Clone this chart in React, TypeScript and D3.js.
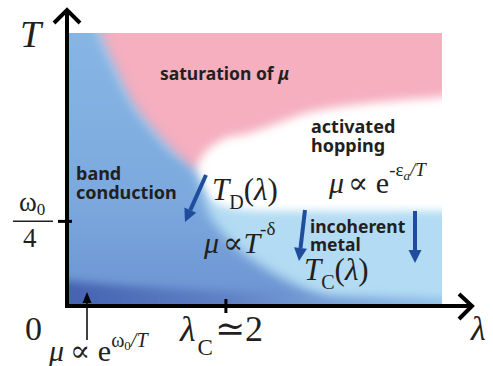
import React from "react";
import * as d3 from "d3";

const W = 493;
const H = 366;

// axis domains (λ along x, T along y, T normalised to the top of the chart)
const lambdaDomain: [number, number] = [0, 4.72];
const tDomain: [number, number] = [0, 1];
const lambdaC = 2;
const omegaQuarter = 0.31;

// crossover T_D(λ): band-conduction region (blue) / saturation (pink)
const blueEdgeLambda = [0.37, 0.42, 0.6, 0.84, 1.12, 1.38, 1.62];
const blueEdgeT = [1.05, 1.0, 0.88, 0.74, 0.635, 0.555, 0.49];
// lower continuation of the band-conduction region towards λ axis
const bandEdgeLambda = [1.7, 1.8, 2.2, 2.75, 3.3];
const bandEdgeT = [0.43, 0.33, 0.2, 0.095, 0.02];
// saturation (pink) / activated hopping (white)
const pinkEdgeLambda = [1.74, 1.99, 2.25, 2.62, 3.06, 3.81, 4.71, 4.95];
const pinkEdgeT = [0.564, 0.615, 0.63, 0.667, 0.711, 0.744, 0.766, 0.773];
// activated hopping (white) / incoherent metal (light blue)
const metalEdgeLambda = [1.55, 1.67, 1.86, 2.24, 2.93, 4.95];
const metalEdgeT = [0.516, 0.443, 0.377, 0.352, 0.348, 0.348];
// low-temperature band along the λ axis
const lowBandLambda = [-0.3, 0.5, 1.5, 3.0, 4.95];
const lowBandT = [0.1, 0.08, 0.06, 0.04, 0.03];

const x = d3.scaleLinear().domain(lambdaDomain).range([67, 442]);
const y = d3.scaleLinear().domain(tDomain).range([306, 33]);

const zip = (a: number[], b: number[]): [number, number][] => a.map((v, i) => [v, b[i]]);
const smooth = d3.line<[number, number]>().x((p) => x(p[0])).y((p) => y(p[1])).curve(d3.curveCatmullRom.alpha(0.5));
function region(edge: [number, number][], closing: [number, number][]) {
  const tail = closing.map((p) => `L${x(p[0])},${y(p[1])}`).join("");
  return (smooth(edge) as string) + tail + "Z";
}

const MATH = "'Liberation Serif', 'DejaVu Serif', serif";
const SANS = "'Noto Sans', 'Open Sans', sans-serif";
const INK = "#231f20";
const ARROW_BLUE = "#1f4d9c";

function BlueArrow({ from, to }: { from: [number, number]; to: [number, number] }) {
  const [x1, y1] = from;
  const [x2, y2] = to;
  const a = Math.atan2(y2 - y1, x2 - x1);
  const L = 13, Wd = 6.5;
  const bx = x2 - L * Math.cos(a), by = y2 - L * Math.sin(a);
  const nx = -Math.sin(a), ny = Math.cos(a);
  return (
    <g>
      <line x1={x1} y1={y1} x2={bx} y2={by} stroke={ARROW_BLUE} strokeWidth={4} />
      <polygon points={`${x2},${y2} ${bx + nx * Wd},${by + ny * Wd} ${bx - nx * Wd},${by - ny * Wd}`} fill={ARROW_BLUE} />
    </g>
  );
}

export default function App() {
  const blueEdge = zip(blueEdgeLambda, blueEdgeT);
  const bandEdge = zip(bandEdgeLambda, bandEdgeT);
  const pinkEdge = zip(pinkEdgeLambda, pinkEdgeT);
  const metalEdge = zip(metalEdgeLambda, metalEdgeT);
  const lowBand = zip(lowBandLambda, lowBandT);

  const pinkLeft = blueEdge.map(([l, t]) => [l - 0.06, t] as [number, number]);
  const pinkPath = region([...pinkLeft, ...pinkEdge], [[4.95, 1.1], [0.3, 1.1]]);
  const lightPath = region(metalEdge, [[4.95, -0.1], [1.2, -0.1], [1.2, 0.55]]);
  const midPath = region([...blueEdge, ...bandEdge], [[-0.3, -0.1], [-0.3, 1.1]]);
  const lowPath = region(lowBand, [[4.95, -0.1], [-0.3, -0.1]]);

  const [x0, x1] = x.range();
  const [y0, y1] = y.range();

  return (
    <svg width={W} height={H} style={{ position: "absolute", left: 0, top: 0, background: "#fff" }}>
      <defs>
        <clipPath id="plot">
          <rect x={x0} y={y1} width={x1 - x0} height={y0 - y1} />
        </clipPath>
        <filter id="b4" x="-20%" y="-20%" width="140%" height="140%"><feGaussianBlur stdDeviation={4} /></filter>
        <filter id="b5" x="-20%" y="-20%" width="140%" height="140%"><feGaussianBlur stdDeviation={5} /></filter>
        <filter id="b6" x="-20%" y="-20%" width="140%" height="140%"><feGaussianBlur stdDeviation={5.5} /></filter>
        <linearGradient id="midGrad" gradientUnits="userSpaceOnUse" x1={0} y1={y1} x2={0} y2={y0}>
          <stop offset="0" stopColor="#86b6e4" />
          <stop offset="0.6" stopColor="#7ca9de" />
          <stop offset="1" stopColor="#6b93d1" />
        </linearGradient>
        <linearGradient id="lowGrad" gradientUnits="userSpaceOnUse" x1={x0} y1={0} x2={x1} y2={0}>
          <stop offset="0" stopColor="#4562b1" />
          <stop offset="0.45" stopColor="#6283c6" />
          <stop offset="1" stopColor="#93c2ea" />
        </linearGradient>
      </defs>

      <g clipPath="url(#plot)">
        <rect x={x0} y={y1} width={x1 - x0} height={y0 - y1} fill="#fff" />
        <path d={lightPath} fill="#b3dbf3" filter="url(#b4)" />
        <path d={pinkPath} fill="#f5afbf" filter="url(#b5)" />
        <path d={midPath} fill="url(#midGrad)" filter="url(#b6)" />
        <path d={lowPath} fill="url(#lowGrad)" filter="url(#b4)" />
      </g>

      {/* axes */}
      <line x1={x0} y1={y0 + 2} x2={x0} y2={10} stroke="#000" strokeWidth={4} />
      <line x1={x0 - 2} y1={y0} x2={472} y2={y0} stroke="#000" strokeWidth={4} />
      <polyline points={`54,23 ${x0},10 80,23`} fill="none" stroke="#000" strokeWidth={4} />
      <polyline points={`459,294 472,${y0} 459,319`} fill="none" stroke="#000" strokeWidth={4} />
      <line x1={58} x2={x0 + 5} y1={y(omegaQuarter)} y2={y(omegaQuarter)} stroke="#000" strokeWidth={3} />
      <line x1={x(lambdaC)} x2={x(lambdaC)} y1={y0 - 7} y2={y0 + 7} stroke="#000" strokeWidth={3} />

      {/* axis labels */}
      <text x={20} y={47} fontFamily={MATH} fontStyle="italic" fontSize={38} fill={INK}>T</text>
      <text x={471} y={340} fontFamily={MATH} fontStyle="italic" fontSize={34} fill={INK}>λ</text>
      <text x={25} y={340} fontFamily={MATH} fontSize={34} fill={INK}>0</text>
      <text x={180} y={341} fontFamily={MATH} fontSize={36} fill={INK}>
        <tspan fontStyle="italic">λ</tspan>
        <tspan fontSize={23} dy={14} dx={2}>C</tspan>
        <tspan dy={-14} dx={2}>≃2</tspan>
      </text>
      <text x={19} y={211} fontFamily={MATH} fontSize={27} fill={INK}>
        ω<tspan fontSize={17} dy={4}>0</tspan>
      </text>
      <line x1={13} x2={53} y1={y(omegaQuarter)} y2={y(omegaQuarter)} stroke={INK} strokeWidth={1.5} />
      <text x={23} y={247} fontFamily={MATH} fontSize={27} fill={INK}>4</text>

      {/* bottom formula and thin arrow */}
      <text x={49} y={361} fontFamily={MATH} fontSize={30} fill={INK}>
        <tspan fontStyle="italic">μ</tspan>
        <tspan dx={6}>∝ e</tspan>
        <tspan fontSize={20} dy={-14}>ω</tspan>
        <tspan fontSize={13} dy={3}>0</tspan>
        <tspan fontSize={20} dy={-3} fontStyle="italic">/T</tspan>
      </text>
      <line x1={87} y1={340} x2={87} y2={300} stroke="#000" strokeWidth={1.5} />
      <polygon points="87,292 82.5,303 91.5,303" fill="#000" />

      {/* region labels */}
      <text x={160} y={80} fontFamily={SANS} fontWeight={700} fontSize={17.5} fill={INK}>
        saturation of <tspan fontStyle="italic">μ</tspan>
      </text>
      <text x={311} y={133} fontFamily={SANS} fontWeight={700} fontSize={18} fill={INK}>activated</text>
      <text x={311} y={152} fontFamily={SANS} fontWeight={700} fontSize={18} fill={INK}>hopping</text>
      <text x={76} y={180} fontFamily={SANS} fontWeight={700} fontSize={18} fill={INK}>band</text>
      <text x={76} y={199} fontFamily={SANS} fontWeight={700} fontSize={18} fill={INK}>conduction</text>
      <text x={310} y={233} fontFamily={SANS} fontWeight={700} fontSize={17.5} fill={INK}>incoherent</text>
      <text x={310} y={251} fontFamily={SANS} fontWeight={700} fontSize={17.5} fill={INK}>metal</text>

      {/* formulas in the diagram */}
      <text x={212} y={200} fontFamily={MATH} fontSize={31} fill={INK}>
        <tspan fontStyle="italic">T</tspan>
        <tspan fontSize={20} dy={9}>D</tspan>
        <tspan dy={-9}>(</tspan>
        <tspan fontStyle="italic">λ</tspan>
        <tspan>)</tspan>
      </text>
      <text x={329} y={193} fontFamily={MATH} fontSize={30} fill={INK}>
        <tspan fontStyle="italic">μ</tspan>
        <tspan dx={4}>∝ e</tspan>
        <tspan fontSize={19} dy={-17}>-ε</tspan>
        <tspan fontSize={13} dy={4} fontStyle="italic">a</tspan>
        <tspan fontSize={19} dy={-4} fontStyle="italic">/T</tspan>
      </text>
      <text x={204} y={253} fontFamily={MATH} fontSize={30} fill={INK}>
        <tspan fontStyle="italic">μ</tspan>
        <tspan dx={4}>∝</tspan>
        <tspan fontStyle="italic">T</tspan>
        <tspan fontSize={19} dy={-18}>-δ</tspan>
      </text>
      <text x={304} y={280} fontFamily={MATH} fontSize={31} fill={INK}>
        <tspan fontStyle="italic">T</tspan>
        <tspan fontSize={20} dy={9}>C</tspan>
        <tspan dy={-9}>(</tspan>
        <tspan fontStyle="italic">λ</tspan>
        <tspan>)</tspan>
      </text>

      <BlueArrow from={[206, 175]} to={[185, 222]} />
      <BlueArrow from={[305, 210]} to={[299, 261]} />
      <BlueArrow from={[415, 211]} to={[415, 263]} />
    </svg>
  );
}
